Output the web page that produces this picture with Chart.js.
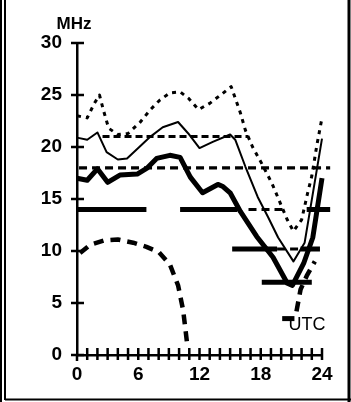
<!DOCTYPE html>
<html>
<head>
<meta charset="utf-8">
<script src="https://cdn.jsdelivr.net/npm/chart.js@4.4.1/dist/chart.umd.min.js"></script>
<style>
  html, body { margin: 0; padding: 0; background: #fff; }
  #wrap { width: 351px; height: 402px; position: relative; }
</style>
</head>
<body>
<div id="wrap"><canvas id="chart"></canvas></div>
<script>
// hours (UTC) and frequencies (MHz)
const hoursUpper = [0, 1, 1.7, 2.2, 2.6, 3.1, 4, 5, 6.2, 7.2, 8.1, 9.1, 10.1, 10.9, 11.9, 13, 14.2, 15.1, 16, 16.5, 17.2, 18.1, 19.1, 20.6, 21.2, 22, 22.6, 23, 23.5, 24];
const mhzUpper   = [23, 22.8, 24.2, 25, 23.5, 21.8, 21.2, 21.3, 22.4, 23.6, 24.5, 25.2, 25.3, 24.7, 23.6, 24.2, 25.1, 25.8, 23.3, 21.6, 20, 18.4, 16.5, 13, 11.9, 13, 15.6, 17.2, 20.2, 22.8];

const hoursMid = [0, 1, 2, 2.9, 4, 4.9, 6, 7.2, 8.4, 9.9, 10.9, 12, 13.3, 15, 15.5, 16.5, 17.7, 18.7, 19.7, 21.2, 22.3, 24];
const mhzMid   = [20.9, 20.7, 21.4, 19.5, 18.8, 18.9, 19.9, 21, 21.9, 22.4, 21.3, 19.9, 20.5, 21.2, 20.7, 18.1, 15.2, 13.3, 11.3, 9, 10.8, 20.8];

const hoursLow = [0, 1, 2, 3, 4.2, 5.9, 6.9, 7.8, 9.1, 10.1, 11.1, 12.3, 13.8, 14.3, 15, 16, 17.6, 19.2, 20.6, 21.1, 22.2, 23.1, 24];
const mhzLow   = [17, 16.8, 17.9, 16.6, 17.3, 17.4, 18, 18.9, 19.2, 19, 17.1, 15.6, 16.4, 16.2, 15.6, 13.8, 11.4, 9.4, 6.9, 6.7, 8.8, 11.3, 17];

const hoursCurve1 = [0.3, 1.3, 2.6, 4, 5.5, 6.8, 8, 9.1, 9.9, 10.4, 10.8];
const mhzCurve1   = [9.8, 10.6, 11, 11.1, 10.8, 10.4, 9.9, 8.7, 6.7, 4.3, 1];
const hoursCurve2 = [21.5, 21.9, 22.5, 23.3];
const mhzCurve2   = [4.2, 6.3, 7.6, 9];

// band bars: [from hour, to hour]
const band21Dashed = [[2.5, 16.8]];
const band18Dashed = [[0.2, 24.8]];
const band14Solid  = [[0, 6.8], [10.1, 15.7], [22.5, 24.8]];
const band14Dashed = [[16.8, 20.4]];
const band10Solid  = [[15.2, 19.6], [21.9, 23.8]];
const band10Dashed = [[19.6, 21.9]];
const band7Solid   = [[18.1, 23]];
const band35Solid  = [[20.1, 21.3]];

const yTicks = [0, 5, 10, 15, 20, 25, 30];
const xLabels = [0, 6, 12, 18, 24];

function pts(hours, vals) {
    return hours.map((h, i) => ({ x: h, y: vals[i] }));
}
function bars(spans, mhz) {
    const out = [];
    spans.forEach(s => {
        out.push({ x: s[0], y: mhz }, { x: s[1], y: mhz }, { x: s[1], y: null });
    });
    return out;
}
function line(data, width, dash) {
    return {
        data: data, borderColor: '#000', borderWidth: width, borderDash: dash || [],
        pointRadius: 0, tension: 0, fill: false, clip: false, spanGaps: false,
        borderCapStyle: 'butt', borderJoinStyle: 'round'
    };
}

const font = { family: 'Liberation Sans', size: 19, weight: 'bold' };

// tick marks crossing the axes, text labels and the frame
const decor = {
    id: 'decor',
    afterDraw(chart) {
        const { ctx, scales: { x, y } } = chart;
        const x0 = x.getPixelForValue(0), y0 = y.getPixelForValue(0);
        ctx.save();
        ctx.strokeStyle = '#000';
        ctx.lineWidth = 2.5;
        ctx.beginPath();
        yTicks.forEach(v => {
            const py = y.getPixelForValue(v);
            ctx.moveTo(x0 - 6, py); ctx.lineTo(x0 + 7, py);
        });
        x.ticks.forEach(t => {
            if (t.value === 0) return;
            const px = x.getPixelForValue(t.value);
            ctx.moveTo(px, y0 - 7); ctx.lineTo(px, y0 + 5);
        });
        ctx.moveTo(x0, y0); ctx.lineTo(x0, y0 + 6);
        ctx.stroke();

        ctx.fillStyle = '#000';
        ctx.textAlign = 'center';
        ctx.textBaseline = 'middle';
        ctx.font = 'bold 17px "Liberation Sans"';
        ctx.fillText('MHz', x0 - 3, y.top - 19);
        ctx.font = '18px "Liberation Sans"';
        ctx.fillText('UTC', x.right - 15, y0 - 30);

        // frame
        const w = chart.width, h = chart.height;
        ctx.lineWidth = 2;
        ctx.beginPath();
        ctx.moveTo(1, 0); ctx.lineTo(1, h);
        ctx.moveTo(5, 0); ctx.lineTo(5, h - 2);
        ctx.moveTo(5, h - 2.5); ctx.lineTo(w, h - 2.5);
        ctx.stroke();
        ctx.lineWidth = 3;
        ctx.beginPath();
        ctx.moveTo(w - 2, 0); ctx.lineTo(w - 2, h);
        ctx.stroke();
        ctx.restore();
    }
};

new Chart(document.getElementById('chart'), {
    type: 'line',
    data: {
        datasets: [
            line(pts(hoursMid, mhzMid), 2),
            line(pts(hoursLow, mhzLow), 5),
            line(pts(hoursUpper, mhzUpper), 3, [4, 5]),
            line(bars(band21Dashed, 21), 3, [7, 4]),
            line(bars(band18Dashed, 18), 3.2, [8, 5]),
            line(bars(band14Solid, 14), 5),
            line(bars(band14Dashed, 14), 3, [8, 5]),
            line(bars(band10Solid, 10.2), 5),
            line(bars(band10Dashed, 10.2), 3, [8, 5]),
            line(bars(band7Solid, 7), 5),
            line(bars(band35Solid, 3.5), 5),
            line(pts(hoursCurve1, mhzCurve1), 4.5, [10, 7]),
            line(pts(hoursCurve2, mhzCurve2), 4.5, [10, 7])
        ]
    },
    options: {
        responsive: true,
        maintainAspectRatio: false,
        animation: false,
        devicePixelRatio: 1,
        layout: { padding: { top: 43, right: 29, left: 0, bottom: 0 } },
        plugins: { legend: { display: false }, tooltip: { enabled: false } },
        scales: {
            x: {
                type: 'linear', min: 0, max: 24,
                grid: { display: false, drawTicks: false },
                border: { color: '#000', width: 2.5 },
                ticks: {
                    stepSize: 1, autoSkip: false, maxRotation: 0, padding: 8,
                    color: '#000', font: font,
                    callback: v => xLabels.includes(v) ? String(v) : ''
                },
                afterFit: s => { s.height = 47; }
            },
            y: {
                min: 0, max: 30,
                grid: { display: false, drawTicks: false },
                border: { color: '#000', width: 2.5 },
                ticks: { stepSize: 5, padding: 15, color: '#000', font: font },
                afterFit: s => { s.width = 77; }
            }
        }
    },
    plugins: [decor]
});
</script>
</body>
</html>
